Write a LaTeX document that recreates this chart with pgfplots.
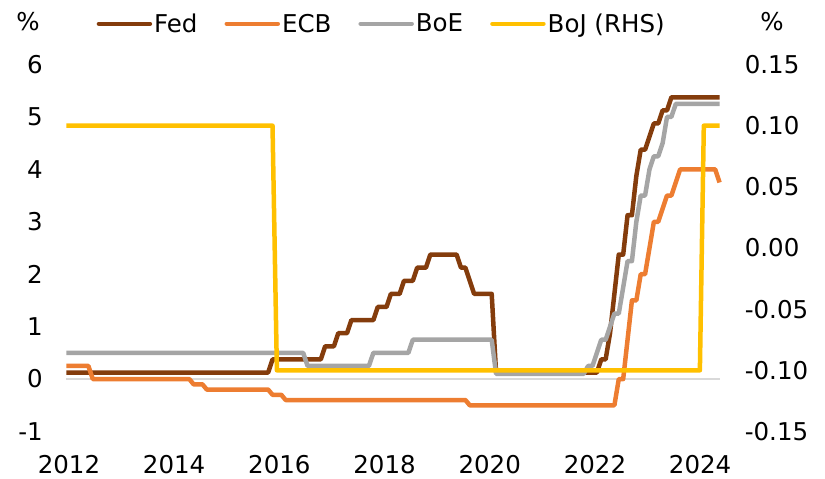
\documentclass[border=0pt]{standalone}
\usepackage{fontspec}
\setmainfont{DejaVu Sans}
\usepackage{pgfplots}
\pgfplotsset{compat=1.18}
\definecolor{fed}{HTML}{843C0C}
\definecolor{ecb}{HTML}{ED7D31}
\definecolor{boe}{HTML}{A5A5A5}
\definecolor{boj}{HTML}{FFC000}
\definecolor{zeroc}{HTML}{D9D9D9}
\newcommand{\bigf}{\fontsize{24.5}{29}\selectfont}
\begin{document}
\begin{tikzpicture}[x=1pt,y=1pt]
\pgfplotsset{
  common/.style={
    at={(0pt,0pt)}, anchor=south west,
    scale only axis, width=653.1pt, height=367pt,
    xmin=2012.083, xmax=2024.5,
    axis line style={draw=none},
    major tick length=0pt,
    tick style={draw=none},
    ticklabel style={font=\bigf, inner sep=0pt},
    clip=false,
  }
}
\begin{axis}[common,
  ymin=-1, ymax=6,
  ytick={-1,0,1,2,3,4,5,6},
  yticklabels={-1,0,1,2,3,4,5,6},
  ytick pos=left,
  xtick={2012.13,2014.13,2016.13,2018.13,2020.13,2022.13,2024.13},
  xticklabels={2012,2014,2016,2018,2020,2022,2024},
  xtick pos=bottom,
  yticklabel style={anchor=east, xshift=-23.5pt},
  xticklabel style={anchor=north, yshift=-23.5pt},
]
\addplot[zeroc, line width=1.5pt, forget plot] coordinates {(2012.083,0) (2024.5,0)};
\addplot[fed, line width=4.5pt, line join=round] coordinates {
(2012.083,0.125) (2015.917,0.125) (2016.0,0.375) (2016.917,0.375) (2017.0,0.625) (2017.167,0.625) (2017.25,0.875) (2017.417,0.875) (2017.5,1.125) (2017.917,1.125) (2018.0,1.375) (2018.167,1.375) (2018.25,1.625) (2018.417,1.625) (2018.5,1.875) (2018.667,1.875) (2018.75,2.125) (2018.917,2.125) (2019.0,2.375) (2019.5,2.375) (2019.583,2.125) (2019.667,2.125) (2019.75,1.875) (2019.833,1.625) (2020.167,1.625) (2020.25,0.125) (2022.167,0.125) (2022.25,0.375) (2022.333,0.375) (2022.417,0.875) (2022.5,1.625) (2022.583,2.375) (2022.667,2.375) (2022.75,3.125) (2022.833,3.125) (2022.917,3.875) (2023.0,4.375) (2023.083,4.375) (2023.167,4.625) (2023.25,4.875) (2023.333,4.875) (2023.417,5.125) (2023.5,5.125) (2023.583,5.375) (2024.5,5.375)
};
\addplot[ecb, line width=4.5pt, line join=round] coordinates {
(2012.083,0.25) (2012.5,0.25) (2012.583,0) (2014.417,0) (2014.5,-0.1) (2014.667,-0.1) (2014.75,-0.2) (2015.917,-0.2) (2016.0,-0.3) (2016.167,-0.3) (2016.25,-0.4) (2019.667,-0.4) (2019.75,-0.5) (2022.5,-0.5) (2022.583,0) (2022.667,0) (2022.75,0.75) (2022.833,1.5) (2022.917,1.5) (2023.0,2.0) (2023.083,2.0) (2023.167,2.5) (2023.25,3.0) (2023.333,3.0) (2023.417,3.25) (2023.5,3.5) (2023.583,3.5) (2023.667,3.75) (2023.75,4.0) (2024.417,4.0) (2024.5,3.75)
};
\addplot[boe, line width=4.5pt, line join=round] coordinates {
(2012.083,0.5) (2016.583,0.5) (2016.667,0.25) (2017.833,0.25) (2017.917,0.5) (2018.583,0.5) (2018.667,0.75) (2020.167,0.75) (2020.25,0.1) (2021.917,0.1) (2022.0,0.25) (2022.083,0.25) (2022.167,0.5) (2022.25,0.75) (2022.333,0.75) (2022.417,1.0) (2022.5,1.25) (2022.583,1.25) (2022.667,1.75) (2022.75,2.25) (2022.833,2.25) (2022.917,3.0) (2023.0,3.5) (2023.083,3.5) (2023.167,4.0) (2023.25,4.25) (2023.333,4.25) (2023.417,4.5) (2023.5,5.0) (2023.583,5.0) (2023.667,5.25) (2024.5,5.25)
};
\end{axis}
\begin{axis}[common,
  ymin=-0.15, ymax=0.15,
  ytick={-0.15,-0.1,-0.05,0,0.05,0.1,0.15},
  yticklabels={-0.15,-0.10,-0.05,0.00,0.05,0.10,0.15},
  ytick pos=right, yticklabel pos=right,
  xtick=\empty,
  yticklabel style={anchor=west, xshift=25pt},
  legend columns=4,
  legend image code/.code={\draw[#1, line cap=round] (0pt,0pt) -- (51pt,0pt); \path (53pt,0pt);},
  legend style={at={(0.481,1.111)}, anchor=center, draw=none, fill=none,
    inner sep=0pt, font=\bigf, nodes={inner sep=0pt}, column sep=0pt,
    /tikz/every even column/.append style={column sep=27pt}},
]
\addlegendimage{fed, line width=4.5pt}
\addlegendentry{Fed}
\addlegendimage{ecb, line width=4.5pt}
\addlegendentry{ECB}
\addlegendimage{boe, line width=4.5pt}
\addlegendentry{BoE}
\addplot[boj, line width=4.5pt, line join=round] coordinates {
(2012.083,0.1) (2016.0,0.1) (2016.083,-0.1) (2024.125,-0.1) (2024.2,0.1) (2024.5,0.1)
};
\addlegendentry{BoJ (RHS)}
\end{axis}
\node[font=\bigf, inner sep=0pt] at (-38.5,409.5) {\%};
\node[font=\bigf, inner sep=0pt] at (705.5,409.5) {\%};
\pgfresetboundingbox
\path (-66.5,-47.5) rectangle (758.5,431.5);
\end{tikzpicture}
\end{document}
